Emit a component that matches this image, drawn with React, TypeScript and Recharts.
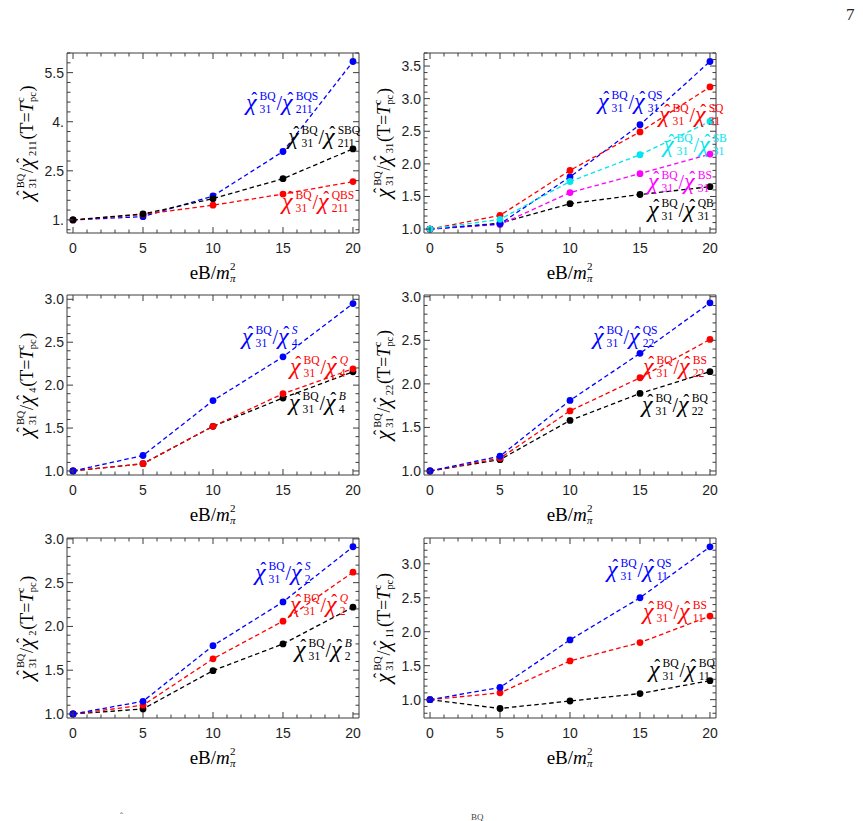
import React from "react";
import { LineChart, Line, XAxis, YAxis } from "recharts";

// magnetic field values eB/m_pi^2
const EB = [0, 5, 10, 15, 20];

// chi31^BQ / chi211
const R211_BQS = [1.0, 1.1, 1.73, 3.09, 5.84];
const R211_SBQ = [1.0, 1.18, 1.65, 2.26, 3.17];
const R211_QBS = [1.0, 1.17, 1.45, 1.79, 2.17];

// chi31^BQ / chi31
const R31_QS = [1.0, 1.08, 1.8, 2.6, 3.57];
const R31_SQ = [1.0, 1.21, 1.9, 2.49, 3.18];
const R31_SB = [1.0, 1.15, 1.73, 2.14, 2.65];
const R31_BS = [1.0, 1.07, 1.56, 1.85, 2.15];
const R31_QB = [1.0, 1.09, 1.39, 1.53, 1.65];

// chi31^BQ / chi4
const R4_S = [1.0, 1.18, 1.82, 2.33, 2.95];
const R4_Q = [1.0, 1.085, 1.52, 1.9, 2.19];
const R4_B = [1.0, 1.085, 1.52, 1.85, 2.155];

// chi31^BQ / chi22
const R22_QS = [1.0, 1.17, 1.81, 2.35, 2.93];
const R22_BS = [1.0, 1.146, 1.69, 2.07, 2.51];
const R22_BQ = [1.0, 1.13, 1.58, 1.89, 2.14];

// chi31^BQ / chi2
const R2_S = [1.0, 1.145, 1.78, 2.28, 2.91];
const R2_Q = [1.0, 1.1, 1.63, 2.06, 2.62];
const R2_B = [1.0, 1.057, 1.495, 1.8, 2.22];

// chi31^BQ / chi11
const R11_QS = [1.0, 1.18, 1.88, 2.5, 3.25];
const R11_BS = [1.0, 1.1, 1.57, 1.84, 2.23];
const R11_BQ = [1.0, 0.87, 0.98, 1.09, 1.28];

const X_MAJOR = [0, 5, 10, 15, 20];
const Y_WIDE = [1, 2.5, 4, 5.5];
const Y_WIDE_LABELS = ["1.", "2.5", "4.", "5.5"];
const Y_HALF = [1, 1.5, 2, 2.5, 3, 3.5];
const Y_HALF_LABELS = ["1.0", "1.5", "2.0", "2.5", "3.0", "3.5"];

const BLUE = "#0000ff";
const RED = "#ff0000";
const BLACK = "#000000";
const CYAN = "#00e5ee";
const MAGENTA = "#ff00ff";
const FRAME = "#3c3c3c";

const X_DOMAIN: [number, number] = [-0.43, 20.43];

// ---------- small math typesetting ----------
type Tok = {
  b: string;
  it?: boolean;
  hat?: boolean;
  big?: boolean;
  sub?: string;
  sup?: string;
  subIt?: boolean;
  supIt?: boolean;
};

const CW: Record<string, number> = {
  "0": 0.5, "1": 0.5, "2": 0.5, "3": 0.5, "4": 0.5, "5": 0.5,
  B: 0.667, Q: 0.722, S: 0.556, T: 0.611, e: 0.444, "/": 0.278,
  "(": 0.333, ")": 0.333, "=": 0.564, p: 0.5, c: 0.444, m: 0.778,
  "χ": 0.55, "π": 0.55,
};
const CWI: Record<string, number> = {
  S: 0.5, Q: 0.722, B: 0.611, T: 0.556, m: 0.722, "χ": 0.55, "π": 0.5,
};

function textW(t: string, size: number, it?: boolean) {
  let w = 0;
  for (const ch of t) w += ((it && CWI[ch]) || CW[ch] || 0.5) * size;
  return w;
}

type Item = { t: string; x: number; y: number; s: number; it?: boolean; mid?: boolean };

function layout(toks: Tok[], size: number) {
  const ss = size * 0.58;
  const items: Item[] = [];
  let cx = 0;
  toks.forEach((tk) => {
    const bs = tk.big ? size * 1.2 : size;
    const bw = textW(tk.b, bs, tk.it);
    items.push({ t: tk.b, x: cx, y: 0, s: bs, it: tk.it });
    if (tk.hat) items.push({ t: "ˆ", x: cx + bw * 0.5 + bs * 0.07, y: -bs * 0.22, s: size * 0.9, mid: true });
    let ex = cx + bw;
    if (tk.sub || tk.sup) {
      const sx = cx + bw + (tk.it ? size * 0.02 : 0);
      let w = 0;
      if (tk.sup) {
        items.push({ t: tk.sup, x: sx, y: -size * 0.5, s: ss, it: tk.supIt });
        w = Math.max(w, textW(tk.sup, ss, tk.supIt));
      }
      if (tk.sub) {
        items.push({ t: tk.sub, x: sx, y: size * 0.17, s: ss, it: tk.subIt });
        w = Math.max(w, textW(tk.sub, ss, tk.subIt));
      }
      ex = sx + w + size * 0.04;
    }
    cx = ex;
  });
  return { items, width: cx };
}

// one <text> per formula, each piece placed by an absolute tspan
function MathText({
  x, y, toks, size = 20, color = "#000", rotate = 0, center = false,
}: {
  x: number; y: number; toks: Tok[]; size?: number; color?: string; rotate?: number; center?: boolean;
}) {
  const { items, width } = layout(toks, size);
  const off = center ? -width / 2 : 0;
  return (
    <text
      transform={`translate(${x},${y}) rotate(${rotate})`}
      fill={color}
      fontFamily="'Liberation Serif', 'DejaVu Serif', serif"
    >
      {items.map((it, i) => (
        <tspan
          key={i}
          x={it.x + off}
          y={it.y}
          fontSize={it.s}
          fontStyle={it.it ? "italic" : "normal"}
          textAnchor={it.mid ? "middle" : "start"}
        >
          {it.t}
        </tspan>
      ))}
    </text>
  );
}

const chi = (sub: string, sup?: string, supIt?: boolean): Tok => ({
  b: "χ", it: true, hat: true, big: true, sub, sup, supIt,
});
const ratio = (den: string, denSup: string, supIt = false): Tok[] => [
  chi("31", "BQ"), { b: "/" }, chi(den, denSup, supIt),
];
const yTitle = (den: string): Tok[] => [
  chi("31", "BQ"), { b: "/" }, chi(den), { b: "(T=" },
  { b: "T", it: true, sub: "pc", sup: "c" }, { b: ")" },
];
const xTitle: Tok[] = [{ b: "eB/" }, { b: "m", it: true, sub: "π", sup: "2", subIt: true }];

// ---------- frame ticks ----------
const near = (a: number, list: number[]) => list.some((v) => Math.abs(v - a) < 1e-6);

// minor tick positions stepping out from the first major tick
function minorTicks(lo: number, hi: number, start: number, step: number) {
  const out: number[] = [];
  const k0 = Math.ceil((lo - start) / step - 1e-9);
  for (let k = k0; start + k * step <= hi + 1e-9; k++) {
    out.push(Math.round((start + k * step) * 1000) / 1000);
  }
  return out;
}

function FrameTick(props: any) {
  const { x, y, payload, side, majors, labels } = props;
  const v = payload.value as number;
  const major = near(v, majors);
  const len = major ? 6 : 3.5;
  const idx = majors.findIndex((m: number) => Math.abs(m - v) < 1e-6);
  const lbl = idx >= 0 && labels ? labels[idx] : null;
  const font = { fontFamily: "'Liberation Sans', Arial, sans-serif", fontSize: 14, fill: "#1e1e1e" };
  if (side === "bottom") {
    return (
      <g>
        <line x1={x} y1={y} x2={x} y2={y - len} stroke={FRAME} />
        {lbl && <text x={x} y={y + 20} textAnchor="middle" {...font}>{lbl}</text>}
      </g>
    );
  }
  if (side === "top") return <line x1={x} y1={y} x2={x} y2={y + len} stroke={FRAME} />;
  if (side === "left") {
    return (
      <g>
        <line x1={x} y1={y} x2={x + len} y2={y} stroke={FRAME} />
        {lbl && <text x={x - 3} y={y + 5} textAnchor="end" {...font}>{lbl}</text>}
      </g>
    );
  }
  return <line x1={x} y1={y} x2={x - len} y2={y} stroke={FRAME} />;
}

// ---------- panel ----------
type Series = { data: number[]; color: string };

function Panel({
  fx, fy, yDomain, yMajors, yLabels, yStep, series,
}: {
  fx: number; fy: number; yDomain: [number, number]; yMajors: number[]; yLabels: string[];
  yStep: number; series: Series[];
}) {
  const rows = EB.map((x, i) => {
    const r: Record<string, number> = { x };
    series.forEach((s, j) => (r[`s${j}`] = s.data[i]));
    return r;
  });
  const xTicks = minorTicks(0, 20, 0, 1);
  const yTicks = minorTicks(yDomain[0], yDomain[1], yMajors[0], yStep);
  const common = { type: "number" as const, allowDataOverflow: true, interval: 0 as const, tickSize: 0, tickMargin: 0 };
  return (
    <div style={{ position: "absolute", left: fx - 60, top: fy - 10 }}>
      <LineChart width={362} height={240} data={rows} margin={{ top: 0, right: 0, bottom: 0, left: 0 }}>
        <XAxis
          {...common}
          dataKey="x"
          domain={X_DOMAIN}
          ticks={xTicks}
          height={50}
          axisLine={{ stroke: FRAME }}
          tickLine={false}
          tick={(p: any) => <FrameTick {...p} side="bottom" majors={X_MAJOR} labels={X_MAJOR.map(String)} />}
        />
        <XAxis
          {...common}
          xAxisId="top"
          orientation="top"
          dataKey="x"
          domain={X_DOMAIN}
          ticks={xTicks}
          height={10}
          axisLine={{ stroke: FRAME }}
          tickLine={false}
          tick={(p: any) => <FrameTick {...p} side="top" majors={X_MAJOR} />}
        />
        <YAxis
          {...common}
          domain={yDomain}
          ticks={yTicks}
          width={60}
          axisLine={{ stroke: FRAME }}
          tickLine={false}
          tick={(p: any) => <FrameTick {...p} side="left" majors={yMajors} labels={yLabels} />}
        />
        <YAxis
          {...common}
          yAxisId="right"
          orientation="right"
          domain={yDomain}
          ticks={yTicks}
          width={10}
          axisLine={{ stroke: FRAME }}
          tickLine={false}
          tick={(p: any) => <FrameTick {...p} side="right" majors={yMajors} />}
        />
        {series.map((s, j) => (
          <Line
            key={j}
            type="linear"
            dataKey={`s${j}`}
            stroke={s.color}
            strokeWidth={1.3}
            strokeDasharray="4.5 3"
            dot={{ r: 3.4, fill: s.color, stroke: "none" }}
            activeDot={false}
            isAnimationActive={false}
          />
        ))}
      </LineChart>
    </div>
  );
}

export default function App() {
  const LX = 67;
  const RX = 424;
  const rows = [53, 295, 538];
  return (
    <div
      style={{
        position: "absolute", left: 0, top: 0, width: 863, height: 821,
        background: "#fff", overflow: "hidden",
      }}
    >
      <Panel fx={LX} fy={rows[0]} yDomain={[0.6, 6.1]} yMajors={Y_WIDE} yLabels={Y_WIDE_LABELS} yStep={0.3}
        series={[{ data: R211_BQS, color: BLUE }, { data: R211_QBS, color: RED }, { data: R211_SBQ, color: BLACK }]} />
      <Panel fx={RX} fy={rows[0]} yDomain={[0.94, 3.7]} yMajors={Y_HALF} yLabels={Y_HALF_LABELS} yStep={0.1}
        series={[
          { data: R31_QB, color: BLACK }, { data: R31_BS, color: MAGENTA }, { data: R31_QS, color: BLUE },
          { data: R31_SQ, color: RED }, { data: R31_SB, color: CYAN },
        ]} />
      <Panel fx={LX} fy={rows[1]} yDomain={[0.953, 3.05]} yMajors={Y_HALF} yLabels={Y_HALF_LABELS} yStep={0.1}
        series={[{ data: R4_B, color: BLACK }, { data: R4_Q, color: RED }, { data: R4_S, color: BLUE }]} />
      <Panel fx={RX} fy={rows[1]} yDomain={[0.954, 3.02]} yMajors={Y_HALF} yLabels={Y_HALF_LABELS} yStep={0.1}
        series={[{ data: R22_BQ, color: BLACK }, { data: R22_BS, color: RED }, { data: R22_QS, color: BLUE }]} />
      <Panel fx={LX} fy={rows[2]} yDomain={[0.954, 3.01]} yMajors={Y_HALF} yLabels={Y_HALF_LABELS} yStep={0.1}
        series={[{ data: R2_B, color: BLACK }, { data: R2_Q, color: RED }, { data: R2_S, color: BLUE }]} />
      <Panel fx={RX} fy={rows[2]} yDomain={[0.73, 3.38]} yMajors={Y_HALF} yLabels={Y_HALF_LABELS} yStep={0.1}
        series={[{ data: R11_BQ, color: BLACK }, { data: R11_BS, color: RED }, { data: R11_QS, color: BLUE }]} />

      <svg
        width={863}
        height={821}
        style={{ position: "absolute", left: 0, top: 0, pointerEvents: "none" }}
      >
        <text x={846} y={20} fontFamily="'Liberation Serif', serif" fontSize={17} fill="#222">7</text>

        {/* axis titles */}
        {[
          [LX, rows[0], "211"], [RX, rows[0], "31"],
          [LX, rows[1], "4"], [RX, rows[1], "22"],
          [LX, rows[2], "2"], [RX, rows[2], "11"],
        ].map(([fx, fy, den], i) => (
          <g key={i}>
            <MathText x={(fx as number) - 34} y={(fy as number) + 90} toks={yTitle(den as string)} size={18} rotate={-90} center />
            <MathText x={(fx as number) + 146} y={(fy as number) + 226} toks={xTitle} size={19} center />
          </g>
        ))}

        {/* curve annotations */}
        <MathText x={246} y={110} toks={ratio("211", "BQS")} color={BLUE} />
        <MathText x={288} y={144} toks={ratio("211", "SBQ")} color={BLACK} />
        <MathText x={282} y={209} toks={ratio("211", "QBS")} color={RED} />

        <MathText x={598} y={109} toks={ratio("31", "QS")} color={BLUE} />
        <MathText x={659} y={122} toks={ratio("31", "SQ")} color={RED} />
        <MathText x={663} y={152} toks={ratio("31", "SB")} color={CYAN} />
        <MathText x={648} y={189} toks={ratio("31", "BS")} color={MAGENTA} />
        <MathText x={648} y={217} toks={ratio("31", "QB")} color={BLACK} />

        <MathText x={242} y={344} toks={ratio("4", "S", true)} color={BLUE} />
        <MathText x={290} y={374} toks={ratio("4", "Q", true)} color={RED} />
        <MathText x={289} y={410} toks={ratio("4", "B", true)} color={BLACK} />

        <MathText x={593} y={344} toks={ratio("22", "QS")} color={BLUE} />
        <MathText x={643} y={374} toks={ratio("22", "BS")} color={RED} />
        <MathText x={642} y={412} toks={ratio("22", "BQ")} color={BLACK} />

        <MathText x={255} y={580} toks={ratio("2", "S", true)} color={BLUE} />
        <MathText x={290} y={612} toks={ratio("2", "Q", true)} color={RED} />
        <MathText x={295} y={657} toks={ratio("2", "B", true)} color={BLACK} />

        <MathText x={607} y={577} toks={ratio("11", "QS")} color={BLUE} />
        <MathText x={643} y={619} toks={ratio("11", "BS")} color={RED} />
        <MathText x={649} y={677} toks={ratio("11", "BQ")} color={BLACK} />

        {/* top of the caption line below the figure */}
        <text x={471} y={820} fontFamily="'Liberation Serif', serif" fontSize={9} fill="#444">BQ</text>
        <text x={120} y={819} fontFamily="'Liberation Serif', serif" fontSize={9} fill="#444">ˆ</text>
      </svg>
    </div>
  );
}
